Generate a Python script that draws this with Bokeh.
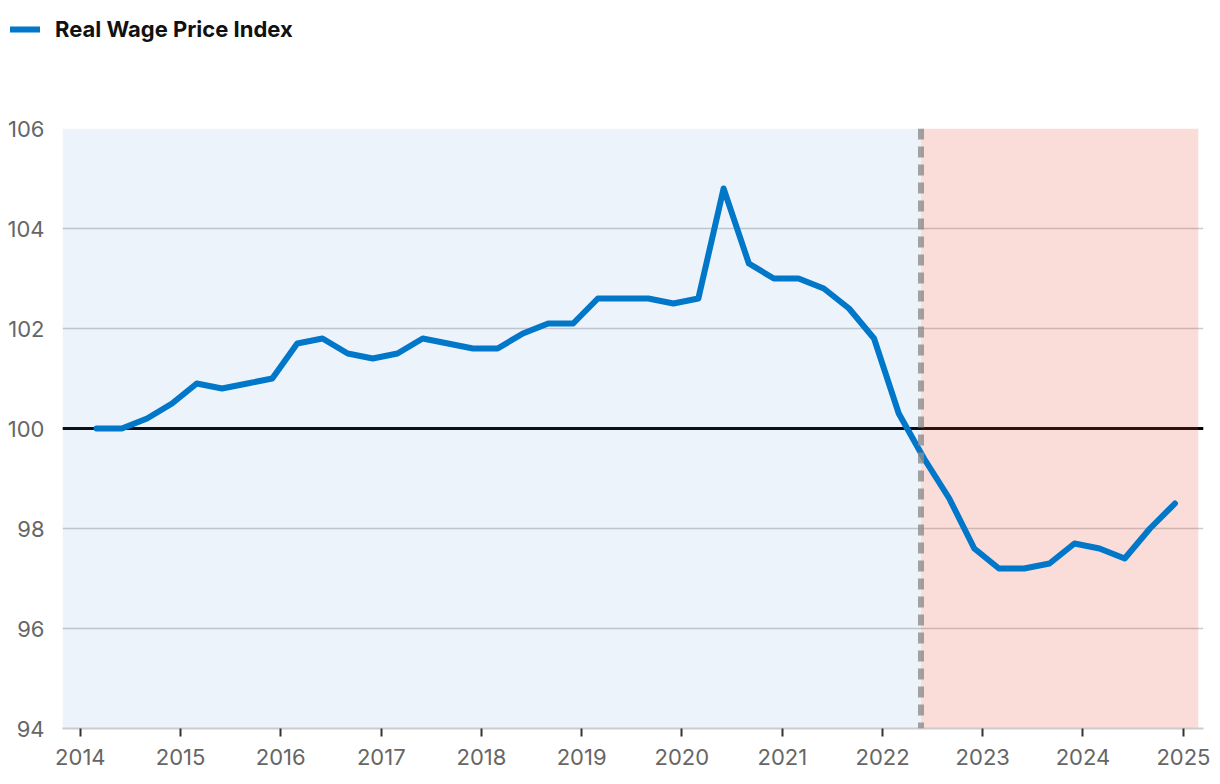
import pandas as pd
from bokeh.plotting import figure
from bokeh.layouts import column, row
from bokeh.models import (Span, BoxAnnotation, FixedTicker, DatetimeTickFormatter,
                          Legend, LegendItem, Range1d, ColumnDataSource)
from bokeh.embed import file_html
from bokeh.resources import INLINE

# ---- data ----
quarter_dates = pd.date_range(start="2014-03-01", periods=44, freq="3MS")
real_wpi = [100.0, 100.0, 100.2, 100.5, 100.9, 100.8, 100.9, 101.0,
            101.7, 101.8, 101.5, 101.4, 101.5, 101.8, 101.7, 101.6,
            101.6, 101.9, 102.1, 102.1, 102.6, 102.6, 102.6, 102.5,
            102.6, 104.8, 103.3, 103.0, 103.0, 102.8, 102.4, 101.8,
            100.3, 99.4, 98.6, 97.6, 97.2, 97.2, 97.3, 97.7,
            97.6, 97.4, 98.0, 98.5]
series_name = "Real Wage Price Index"
year_ticks = list(range(2014, 2026))
y_ticks = [94, 96, 98, 100, 102, 104, 106]
baseline = 100
election_date = "2022-05-21"
shade_start = "2013-10-28"
shade_end = "2025-02-24"
x_start = "2013-10-28"
x_end = "2025-03-15"


def ms(d):
    return pd.Timestamp(d).value / 1e6


source = ColumnDataSource(data=dict(date=quarter_dates, wpi=real_wpi))
line_style = dict(line_color="#0077c8", line_width=6,
                  line_join="round", line_cap="round")
tick_font = "Inter"

# ---- legend strip ----
top = figure(width=1212, height=60, output_backend="svg",
             toolbar_location=None, x_range=Range1d(0, 1),
             y_range=Range1d(0, 1), min_border=0,
             x_axis_location=None, y_axis_location=None)
top.title_location = None
top.grid.visible = False
top.outline_line_color = None
leg_r = top.line(x="date", y="wpi", source=source, **line_style)
legend = Legend(items=[LegendItem(label=series_name, renderers=[leg_r])],
                location=(10, 18), orientation="horizontal",
                border_line_alpha=0, background_fill_alpha=0,
                label_text_font=tick_font, label_text_font_style="bold",
                label_text_font_size="22px", label_text_color="#111111",
                glyph_width=30, glyph_height=20, label_standoff=15,
                padding=0, margin=0, spacing=0)
top.add_layout(legend, "center")

# ---- main chart ----
p = figure(width=1212, height=716, x_axis_type="datetime",
           output_backend="svg", toolbar_location=None,
           x_range=Range1d(ms(x_start), ms(x_end)),
           y_range=Range1d(94, 106),
           min_border_left=62, min_border_right=9,
           min_border_top=68, min_border_bottom=48)
p.outline_line_color = None
p.background_fill_color = "white"
p.border_fill_color = "white"

p.xgrid.visible = False
p.ygrid.ticker = FixedTicker(ticks=y_ticks)
p.ygrid.grid_line_color = "#cccccc"
p.ygrid.grid_line_width = 1.5

p.add_layout(Span(location=baseline, dimension="width", line_color="black",
                  line_width=3, level="underlay"))

p.add_layout(BoxAnnotation(left=ms(shade_start), right=ms(election_date),
                           fill_color="#5a96dc", fill_alpha=0.11,
                           line_alpha=0, level="underlay"))
p.add_layout(BoxAnnotation(left=ms(election_date), right=ms(shade_end),
                           fill_color="#e8503c", fill_alpha=0.2,
                           line_alpha=0, level="underlay"))

p.line(x="date", y="wpi", source=source, **line_style)

p.add_layout(Span(location=ms(election_date), dimension="height",
                  line_color="#8c8c8c", line_alpha=0.8, line_width=6,
                  line_dash="11 7", level="overlay"))

p.yaxis.ticker = FixedTicker(ticks=y_ticks)
p.yaxis.axis_line_color = None
p.yaxis.major_tick_line_color = None
p.yaxis.minor_tick_line_color = None
p.yaxis.major_label_text_font = tick_font
p.yaxis.major_label_text_font_size = "22px"
p.yaxis.major_label_text_color = "#666666"
p.yaxis.major_label_standoff = 12

p.xaxis.ticker = FixedTicker(ticks=[ms(f"{y}-01-01") for y in year_ticks])
p.xaxis.formatter = DatetimeTickFormatter(years="%Y", months="%Y", days="%Y")
p.xaxis.axis_line_color = "#cccccc"
p.xaxis.axis_line_width = 2
p.xaxis.major_tick_line_color = "#333333"
p.xaxis.major_tick_line_width = 2
p.xaxis.major_tick_in = 0
p.xaxis.major_tick_out = 8
p.xaxis.minor_tick_line_color = None
p.xaxis.major_label_text_font = tick_font
p.xaxis.major_label_text_font_size = "22px"
p.xaxis.major_label_text_color = "#666666"
p.xaxis.major_label_standoff = 12

layout = column(row(top), p, spacing=0)
open("out.html", "w").write(file_html(layout, INLINE))
